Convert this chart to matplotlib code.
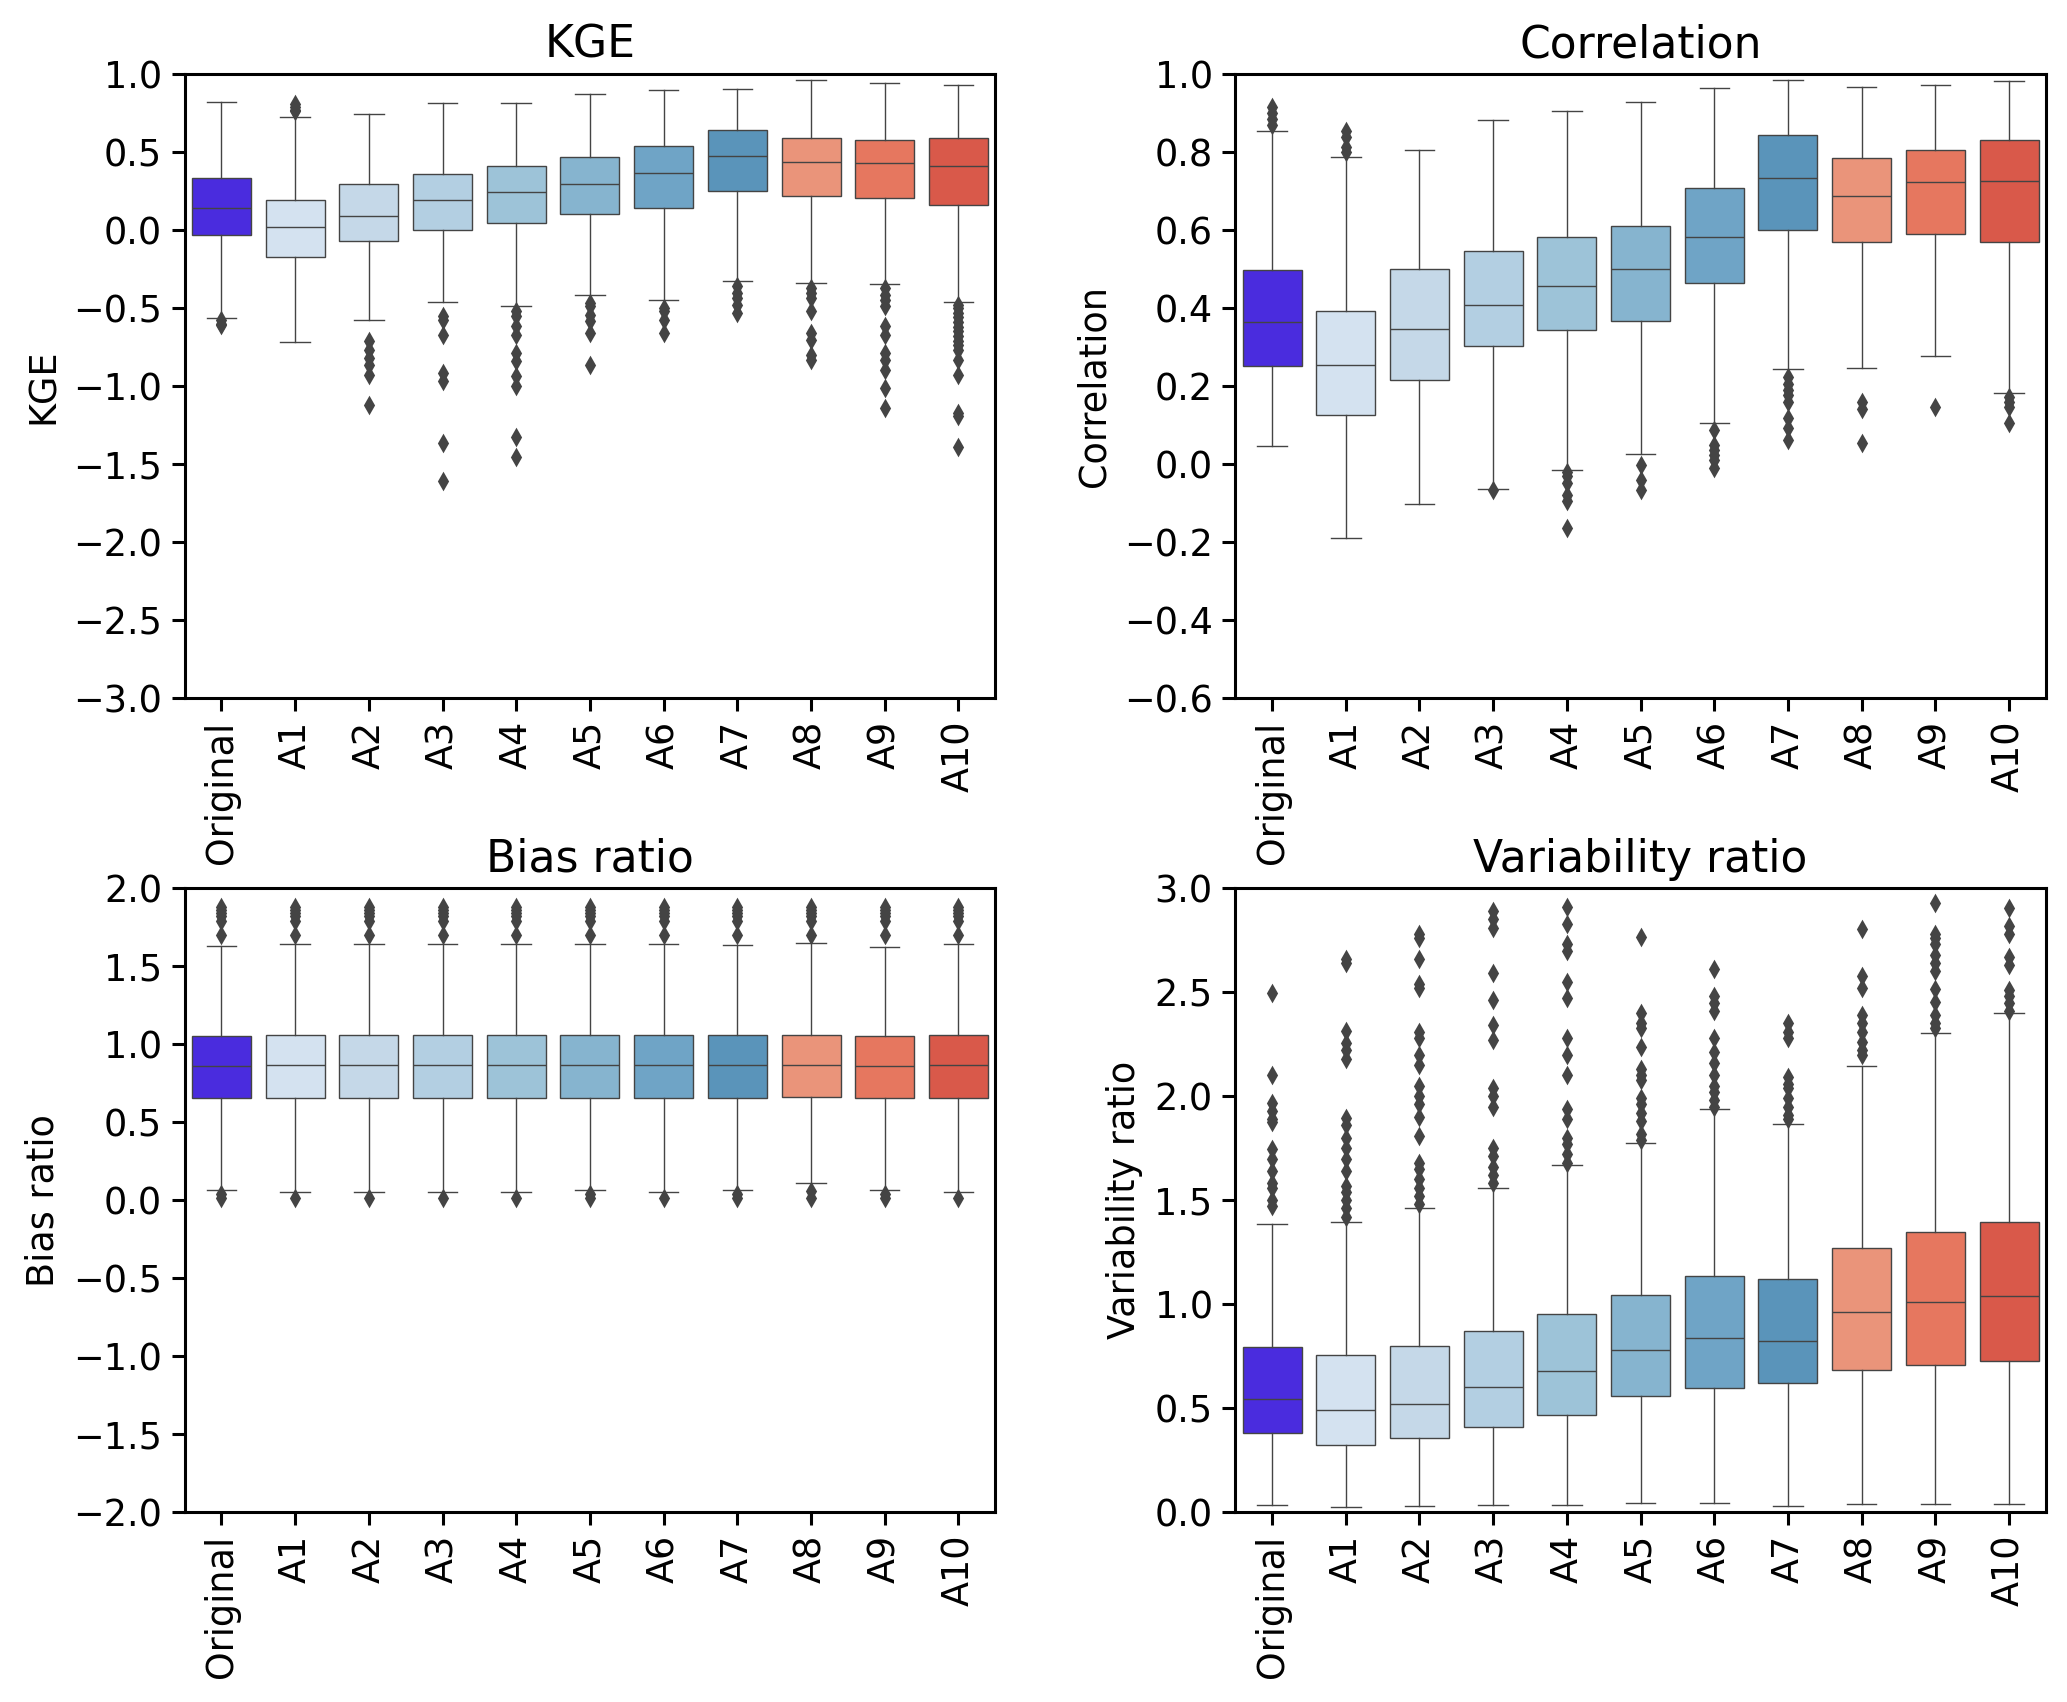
import matplotlib
matplotlib.use("Agg")
import matplotlib.pyplot as plt
import numpy as np

plt.rcParams['font.family'] = ['DejaVu Sans']
plt.rcParams['font.size'] = 13.2
plt.rcParams['axes.linewidth'] = 1.1
plt.rcParams['xtick.major.width'] = 1.1
plt.rcParams['ytick.major.width'] = 1.1
plt.rcParams['xtick.major.size'] = 4.6
plt.rcParams['ytick.major.size'] = 4.6
plt.rcParams['axes.unicode_minus'] = True

labels = ["Original", "A1", "A2", "A3", "A4", "A5", "A6", "A7", "A8", "A9", "A10"]
colors = ["#4a2cde", "#d4e2f0", "#c5d8e8", "#b3cfe2", "#9dc3d8", "#86b4cf",
          "#6fa4c6", "#5a94ba", "#ea947a", "#e6775f", "#d9594a"]

# ---- KGE ----
kge_q1  = [-0.032, -0.175, -0.072, 0.000, 0.045, 0.100, 0.143, 0.247, 0.220, 0.205, 0.162]
kge_med = [0.141, 0.021, 0.092, 0.194, 0.245, 0.296, 0.367, 0.475, 0.435, 0.429, 0.409]
kge_q3  = [0.335, 0.194, 0.296, 0.356, 0.411, 0.465, 0.537, 0.638, 0.591, 0.580, 0.588]
kge_lo  = [-0.567, -0.721, -0.576, -0.461, -0.490, -0.416, -0.448, -0.330, -0.337, -0.348, -0.463]
kge_hi  = [0.821, 0.725, 0.746, 0.814, 0.817, 0.874, 0.896, 0.906, 0.959, 0.942, 0.932]
kge_fliers = [
    [-0.58, -0.60, -0.61],
    [0.81, 0.79, 0.77, 0.76],
    [-0.714, -0.768, -0.821, -0.863, -0.927, -1.119],
    [-0.55, -0.576, -0.672, -0.917, -0.97, -1.365, -1.61],
    [-0.522, -0.554, -0.618, -0.672, -0.789, -0.842, -0.938, -1.002, -1.326, -1.456],
    [-0.469, -0.49, -0.544, -0.586, -0.661, -0.864],
    [-0.501, -0.522, -0.576, -0.661],
    [-0.362, -0.405, -0.437, -0.48, -0.533],
    [-0.373, -0.405, -0.437, -0.522, -0.661, -0.704, -0.80, -0.832],
    [-0.373, -0.416, -0.448, -0.49, -0.618, -0.672, -0.789, -0.832, -0.896, -1.013, -1.141],
    [-0.48, -0.50, -0.53, -0.56, -0.59, -0.62, -0.65, -0.68, -0.71, -0.74, -0.77,
     -0.832, -0.927, -1.173, -1.194, -1.39],
]

# ---- Correlation ----
cor_q1  = [0.251, 0.126, 0.216, 0.302, 0.344, 0.367, 0.463, 0.599, 0.568, 0.589, 0.569]
cor_med = [0.363, 0.253, 0.347, 0.408, 0.456, 0.499, 0.582, 0.734, 0.687, 0.723, 0.725]
cor_q3  = [0.497, 0.393, 0.501, 0.545, 0.582, 0.609, 0.707, 0.843, 0.785, 0.805, 0.830]
cor_lo  = [0.046, -0.190, -0.102, -0.063, -0.015, 0.025, 0.106, 0.243, 0.247, 0.278, 0.181]
cor_hi  = [0.853, 0.786, 0.806, 0.883, 0.905, 0.929, 0.964, 0.985, 0.967, 0.973, 0.983]
cor_fliers = [
    [0.915, 0.90, 0.885, 0.87],
    [0.855, 0.838, 0.812, 0.80],
    [],
    [-0.067],
    [-0.02, -0.032, -0.05, -0.079, -0.096, -0.165],
    [-0.003, -0.041, -0.067],
    [0.087, 0.049, 0.036, 0.023, 0.01, -0.011],
    [0.224, 0.206, 0.189, 0.177, 0.16, 0.117, 0.091, 0.061],
    [0.16, 0.142, 0.053],
    [0.147],
    [0.172, 0.16, 0.147, 0.106],
]

# ---- Bias ratio ----
bia_q1  = [0.653, 0.655, 0.655, 0.655, 0.655, 0.655, 0.655, 0.655, 0.661, 0.653, 0.655]
bia_med = [0.863, 0.867, 0.867, 0.867, 0.867, 0.867, 0.867, 0.867, 0.867, 0.863, 0.867]
bia_q3  = [1.054, 1.058, 1.058, 1.058, 1.058, 1.058, 1.058, 1.058, 1.058, 1.054, 1.058]
bia_lo  = [0.066, 0.053, 0.053, 0.053, 0.053, 0.062, 0.053, 0.062, 0.111, 0.066, 0.053]
bia_hi  = [1.629, 1.644, 1.644, 1.644, 1.644, 1.644, 1.640, 1.637, 1.650, 1.624, 1.644]
bia_fliers = [
    [1.70, 1.79, 1.82, 1.84, 1.86, 1.88, 0.04, 0.015],
    [1.70, 1.79, 1.82, 1.84, 1.86, 1.88, 0.015],
    [1.70, 1.79, 1.82, 1.84, 1.86, 1.88, 0.015],
    [1.70, 1.79, 1.82, 1.84, 1.86, 1.88, 0.015],
    [1.70, 1.79, 1.82, 1.84, 1.86, 1.88, 0.015],
    [1.70, 1.79, 1.82, 1.84, 1.86, 1.88, 0.04, 0.015],
    [1.70, 1.79, 1.82, 1.84, 1.86, 1.88, 0.015],
    [1.70, 1.79, 1.82, 1.84, 1.86, 1.88, 0.04, 0.015],
    [1.70, 1.79, 1.82, 1.84, 1.86, 1.88, 0.058, 0.015],
    [1.70, 1.79, 1.82, 1.84, 1.86, 1.88, 0.04, 0.015],
    [1.70, 1.79, 1.82, 1.84, 1.86, 1.88, 0.015],
]

# ---- Variability ratio ----
var_q1  = [0.380, 0.322, 0.354, 0.407, 0.469, 0.558, 0.596, 0.620, 0.683, 0.709, 0.725]
var_med = [0.542, 0.493, 0.519, 0.602, 0.678, 0.779, 0.836, 0.823, 0.960, 1.009, 1.039]
var_q3  = [0.795, 0.755, 0.797, 0.870, 0.950, 1.045, 1.133, 1.123, 1.270, 1.347, 1.395]
var_lo  = [0.034, 0.024, 0.030, 0.034, 0.036, 0.042, 0.044, 0.030, 0.038, 0.038, 0.038]
var_hi  = [1.383, 1.393, 1.460, 1.560, 1.667, 1.774, 1.937, 1.864, 2.144, 2.305, 2.402]
var_fliers = [
    [2.497, 2.104, 1.967, 1.93, 1.89, 1.878, 1.745, 1.699, 1.639, 1.58, 1.56, 1.50, 1.47],
    [2.66, 2.64, 2.315, 2.255, 2.22, 2.18, 1.897, 1.86, 1.80, 1.75, 1.70, 1.64,
     1.57, 1.54, 1.50, 1.46, 1.42],
    [2.78, 2.76, 2.66, 2.54, 2.52, 2.31, 2.28, 2.20, 2.15, 2.05, 2.00, 1.96, 1.90,
     1.81, 1.68, 1.65, 1.60, 1.56, 1.52, 1.48],
    [2.89, 2.85, 2.81, 2.59, 2.46, 2.34, 2.27, 2.04, 2.00, 1.95, 1.75, 1.71, 1.66,
     1.62, 1.58],
    [2.91, 2.83, 2.73, 2.70, 2.55, 2.47, 2.28, 2.20, 2.10, 1.94, 1.89, 1.80, 1.77,
     1.72, 1.68],
    [2.765, 2.40, 2.35, 2.33, 2.235, 2.13, 2.10, 2.08, 1.99, 1.96, 1.92, 1.88,
     1.82, 1.79],
    [2.61, 2.48, 2.45, 2.41, 2.28, 2.21, 2.16, 2.10, 2.05, 2.02, 1.98, 1.95],
    [2.35, 2.31, 2.28, 2.09, 2.06, 2.04, 1.99, 1.95, 1.91, 1.89],
    [2.805, 2.58, 2.52, 2.39, 2.35, 2.31, 2.26, 2.22, 2.20],
    [2.93, 2.78, 2.76, 2.73, 2.68, 2.64, 2.60, 2.517, 2.454, 2.39, 2.35, 2.33],
    [2.907, 2.82, 2.78, 2.67, 2.63, 2.51, 2.48, 2.45, 2.41],
]

panels = [
    ("KGE", "KGE", kge_q1, kge_med, kge_q3, kge_lo, kge_hi, kge_fliers, (-3.0, 1.0), 0.5),
    ("Correlation", "Correlation", cor_q1, cor_med, cor_q3, cor_lo, cor_hi, cor_fliers, (-0.6, 1.0), 0.2),
    ("Bias ratio", "Bias ratio", bia_q1, bia_med, bia_q3, bia_lo, bia_hi, bia_fliers, (-2.0, 2.0), 0.5),
    ("Variability ratio", "Variability ratio", var_q1, var_med, var_q3, var_lo, var_hi, var_fliers, (0.0, 3.0), 0.5),
]

fig, axes = plt.subplots(2, 2, figsize=(10.335, 8.51), dpi=200)
fig.subplots_adjust(left=0.0893, right=0.9898, top=0.9565, bottom=0.1116,
                    wspace=0.296, hspace=0.305)


def fmt(v, pos):
    s = "%.1f" % v
    if s.startswith("-"):
        s = "\u2212" + s[1:]
    if s == "\u22120.0":
        s = "0.0"
    return s


line_col = "#444444"
for ax, (title, ylab, q1, med, q3, lo, hi, fl, ylim, step) in zip(axes.flat, panels):
    stats = []
    for i in range(len(labels)):
        stats.append(dict(q1=q1[i], med=med[i], q3=q3[i], whislo=lo[i],
                          whishi=hi[i], fliers=fl[i], label=labels[i]))
    bp = ax.bxp(stats, positions=range(len(labels)), widths=0.8, patch_artist=True,
                showfliers=True, capwidths=0.4,
                boxprops=dict(edgecolor=line_col, linewidth=0.5),
                whiskerprops=dict(color=line_col, linewidth=0.5),
                capprops=dict(color=line_col, linewidth=0.5),
                medianprops=dict(color=line_col, linewidth=0.5),
                flierprops=dict(marker='d', markersize=3.6, markerfacecolor=line_col,
                                markeredgecolor=line_col, linestyle='none'))
    for patch, c in zip(bp['boxes'], colors):
        patch.set_facecolor(c)
    ax.set_xlim(-0.5, len(labels) - 0.5)
    ax.set_ylim(*ylim)
    ax.set_yticks(np.arange(ylim[0], ylim[1] + step / 2, step))
    ax.yaxis.set_major_formatter(matplotlib.ticker.FuncFormatter(fmt))
    ax.set_xticks(range(len(labels)))
    ax.set_xticklabels(labels, rotation=90)
    ax.set_title(title, fontsize=15.84)
    ax.set_ylabel(ylab)

fig.savefig("out.png", dpi=200)
